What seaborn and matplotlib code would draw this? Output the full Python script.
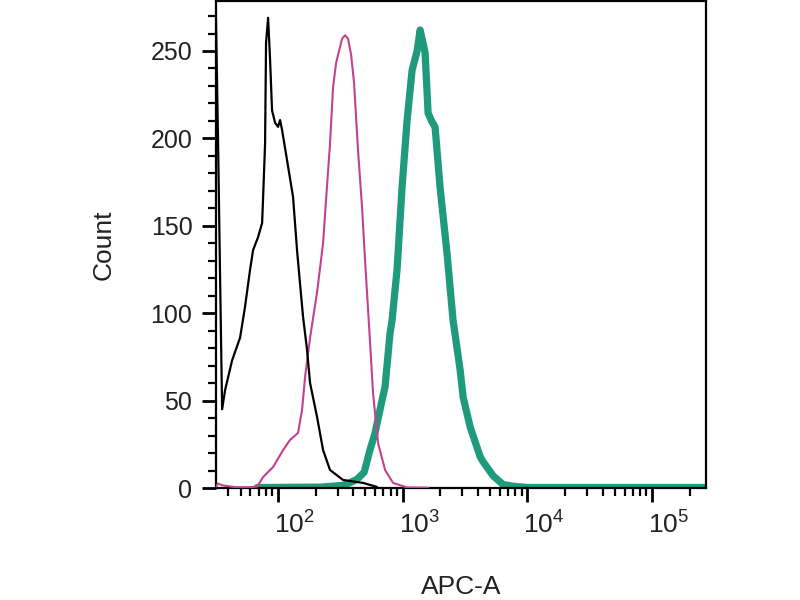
import numpy as np
import pandas as pd
import matplotlib
matplotlib.use("Agg")
import matplotlib.pyplot as plt
import matplotlib.ticker as mticker
from matplotlib.transforms import ScaledTranslation
import seaborn as sns

# ---- data (APC-A intensity, count) ----
black_x = [31.8, 33.0, 34.3, 35.6, 37.6, 42.8, 49.6, 54.3, 59.6, 63.0, 69.2, 74.5,
           75.9, 78.7, 80.1, 83.2, 86.3, 89.5, 94.6, 100, 103.8, 107.7, 118, 131.9,
           142, 150, 158.6, 170.8, 180.6, 205.5, 229.6, 261, 332, 480.5, 622]
black_y = [268, 200, 120, 45, 56, 73, 86, 103.5, 124.7, 136, 143.6, 151.6,
           166.5, 197, 254.6, 269, 245, 216, 209, 206.6, 210.5, 204.8, 187.6, 166.5,
           136, 117, 98, 79, 60, 40.6, 21.7, 10.3, 4.6, 2.9, 0.6]

pink_x = [31.8, 33.0, 36.0, 45.0, 60.0, 68.0, 76.0, 91.2, 109.7, 124.8, 144.6,
          155.7, 164.7, 180.6, 205.5, 229.6, 242.7, 261, 276, 291.7, 308.4, 326,
          344.6, 364, 385, 406.6, 438, 472, 498.6, 547, 578, 634, 721, 836,
          1082, 1600]
pink_y = [1.0, 2.5, 1.5, 0.5, 0.5, 0.8, 6.3, 12, 21.7, 27.5, 31.5,
          44.6, 63.5, 86, 112, 140, 165, 197, 229, 243, 250, 257,
          259, 257, 248, 232, 193, 160, 130, 83, 54, 25.7, 10.3, 2.9,
          0.3, 0.2]

green_x = [68, 217, 332, 377, 430, 490, 547, 597, 658, 721, 791, 821, 900, 987,
           1082, 1188, 1303, 1377, 1450, 1510, 1596, 1700, 1816, 1991, 2265, 2530,
           2884, 3048, 3467, 4170, 4406, 5297, 5700, 6368, 7670, 9930, 270000]
green_y = [0.3, 0.5, 1.5, 3.0, 5.0, 9.0, 22, 31, 45, 58, 88.7, 96, 125, 172,
           210, 239, 250, 262, 255, 249, 214.5, 210, 206.5, 172, 134, 96,
           67.5, 52, 35, 18, 15, 7, 5, 2, 1, 0.3, 0.3]

x_major = [100, 1000, 10000, 100000]
x_major_labels = ["$\\mathregular{10^{2}}$", "$\\mathregular{10^{3}}$",
                  "$\\mathregular{10^{4}}$", "$\\mathregular{10^{5}}$"]
y_major = [0, 50, 100, 150, 200, 250]

# ---- style ----
sns.set_style("ticks")
plt.rcParams["font.family"] = ["Liberation Sans", "DejaVu Sans"]
plt.rcParams["mathtext.fontset"] = "custom"
plt.rcParams["mathtext.rm"] = "Liberation Sans"

fig = plt.figure(figsize=(8, 6), dpi=100)
ax = fig.add_axes([216 / 800, 1 - 488 / 600, (706 - 216) / 800, (488 - 1) / 600])

df_black = pd.DataFrame({"x": black_x, "y": black_y})
df_pink = pd.DataFrame({"x": pink_x, "y": pink_y})
df_green = pd.DataFrame({"x": green_x, "y": green_y})

sns.lineplot(data=df_green, x="x", y="y", ax=ax, color="#1f9a7c", linewidth=5.2,
             estimator=None, sort=False, zorder=2)
sns.lineplot(data=df_pink, x="x", y="y", ax=ax, color="#c2428f", linewidth=1.5,
             estimator=None, sort=False, zorder=3)
sns.lineplot(data=df_black, x="x", y="y", ax=ax, color="black", linewidth=1.6,
             estimator=None, sort=False, zorder=4)

ax.set_xscale("log")
ax.set_xlim(31.8, 2.7e5)
ax.set_ylim(0, 278.6)

ax.xaxis.set_major_locator(mticker.FixedLocator(x_major))
ax.xaxis.set_major_formatter(mticker.FixedFormatter(x_major_labels))
ax.xaxis.set_minor_locator(mticker.LogLocator(base=10, subs=np.arange(2, 10)))
ax.xaxis.set_minor_formatter(mticker.NullFormatter())
ax.yaxis.set_major_locator(mticker.FixedLocator(y_major))
ax.yaxis.set_minor_locator(mticker.MultipleLocator(10))

for s in ax.spines.values():
    s.set_visible(True)
    s.set_linewidth(1.6)
    s.set_color("black")

ax.tick_params(axis="both", which="major", direction="out", length=10, width=2.0,
               color="black", labelcolor="#222222")
ax.tick_params(axis="both", which="minor", direction="out", length=5.5, width=1.6,
               color="black")
ax.tick_params(axis="y", which="major", pad=7, labelsize=18)
ax.tick_params(axis="x", which="major", pad=7, labelsize=19)

offset = ScaledTranslation(-3 / 72, 0, fig.dpi_scale_trans)
for lab in ax.get_xticklabels():
    lab.set_horizontalalignment("left")
    lab.set_transform(lab.get_transform() + offset)

ax.set_xlabel("APC-A", fontsize=19, labelpad=26, color="#222222")
ax.set_ylabel("Count", fontsize=19, labelpad=25, color="#222222")

fig.savefig("out.png", dpi=100)
